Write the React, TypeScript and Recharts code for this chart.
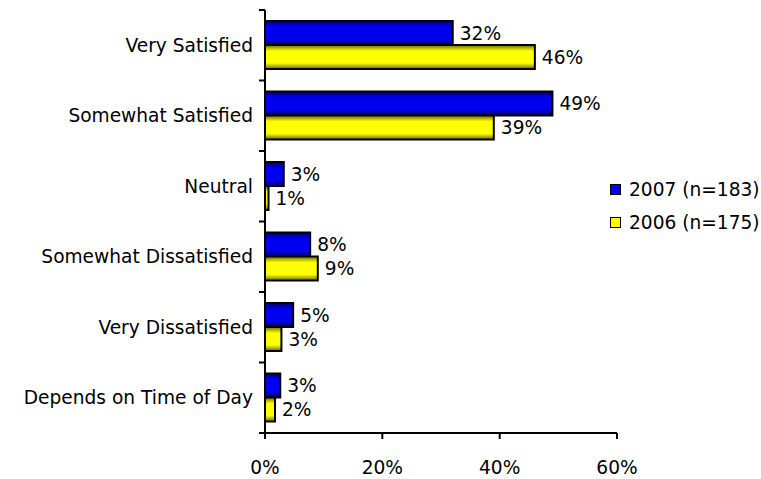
import { BarChart, Bar, XAxis, YAxis, LabelList } from "recharts"

const categories = [
  "Very Satisfied",
  "Somewhat Satisfied",
  "Neutral",
  "Somewhat Dissatisfied",
  "Very Dissatisfied",
  "Depends on Time of Day",
]
const values2007 = [32, 49, 3.2, 7.7, 4.8, 2.6]
const values2006 = [46, 39, 0.6, 9, 2.8, 1.7]
const xTicks = [0, 20, 40, 60]
const seriesNames = ["2007 (n=183)", "2006 (n=175)"]

const data = categories.map((c, i) => ({ cat: c, y2007: values2007[i], y2006: values2006[i] }))

const FONT = "'DejaVu Sans', Verdana, sans-serif"
const FS = 18.6
const TOP = 10
const PLOT_H = 423
const BAND = PLOT_H / categories.length

function CatTick(props: any) {
  const { x, y, payload, index } = props
  const ax = x + 12
  return (
    <g>
      <text x={x} y={y} dy="0.36em" textAnchor="end" fontFamily={FONT} fontSize={FS} fill="#000">
        {payload.value}
      </text>
      <line x1={ax - 6} x2={ax} y1={y - BAND / 2} y2={y - BAND / 2} stroke="#000" strokeWidth={2} />
      {index === categories.length - 1 && (
        <line x1={ax - 6} x2={ax} y1={y + BAND / 2} y2={y + BAND / 2} stroke="#000" strokeWidth={2} />
      )}
    </g>
  )
}

function LegendBox() {
  const fills = ["#0000ff", "#ffff00"]
  return (
    <div style={{ position: "absolute", left: 610, top: 173, fontFamily: FONT, fontSize: FS, color: "#000" }}>
      {seriesNames.map((n, i) => (
        <div key={n} style={{ display: "flex", alignItems: "center", height: 33, whiteSpace: "nowrap" }}>
          <span
            style={{
              display: "inline-block",
              width: 9,
              height: 9,
              background: fills[i],
              border: "1.5px solid #000",
              marginRight: 8,
            }}
          />
          {n}
        </div>
      ))}
    </div>
  )
}

const fmt = (v: any) => `${Math.round(Number(v))}%`

export default function App() {
  return (
    <div style={{ position: "absolute", left: 0, top: 0, width: 761, height: 479 }}>
      <BarChart
        width={761}
        height={479}
        data={data}
        layout="vertical"
        margin={{ top: TOP, right: 144, left: 0, bottom: 0 }}
        barCategoryGap={11}
        barGap={0}
      >
        <defs>
          <linearGradient id="gBlue" x1="0" y1="0" x2="0" y2="1">
            <stop offset="0%" stopColor="#00006a" />
            <stop offset="25%" stopColor="#0000f0" />
            <stop offset="75%" stopColor="#0000f0" />
            <stop offset="100%" stopColor="#00006a" />
          </linearGradient>
          <linearGradient id="gYellow" x1="0" y1="0" x2="0" y2="1">
            <stop offset="0%" stopColor="#6a6a00" />
            <stop offset="25%" stopColor="#ffff00" />
            <stop offset="75%" stopColor="#ffff00" />
            <stop offset="100%" stopColor="#6a6a00" />
          </linearGradient>
        </defs>
        <XAxis
          type="number"
          domain={[0, 60]}
          ticks={xTicks}
          tickFormatter={(v) => `${v}%`}
          axisLine={{ stroke: "#000", strokeWidth: 2 }}
          tickLine={{ stroke: "#000", strokeWidth: 2 }}
          tickSize={6}
          tickMargin={22}
          height={46}
          tick={{ fontFamily: FONT, fontSize: FS, fill: "#000" }}
        />
        <YAxis
          type="category"
          dataKey="cat"
          width={265}
          axisLine={{ stroke: "#000", strokeWidth: 2 }}
          tickLine={false}
          tickSize={6}
          tickMargin={6}
          interval={0}
          tick={<CatTick />}
        />
        <Bar dataKey="y2007" name={seriesNames[0]} fill="url(#gBlue)" stroke="#000" strokeWidth={2} isAnimationActive={false}>
          <LabelList dataKey="y2007" position="right" offset={7} formatter={fmt} style={{ fontFamily: FONT, fontSize: FS, fill: "#000" }} />
        </Bar>
        <Bar dataKey="y2006" name={seriesNames[1]} fill="url(#gYellow)" stroke="#000" strokeWidth={2} isAnimationActive={false}>
          <LabelList dataKey="y2006" position="right" offset={7} formatter={fmt} style={{ fontFamily: FONT, fontSize: FS, fill: "#000" }} />
        </Bar>
      </BarChart>
      <LegendBox />
    </div>
  )
}
